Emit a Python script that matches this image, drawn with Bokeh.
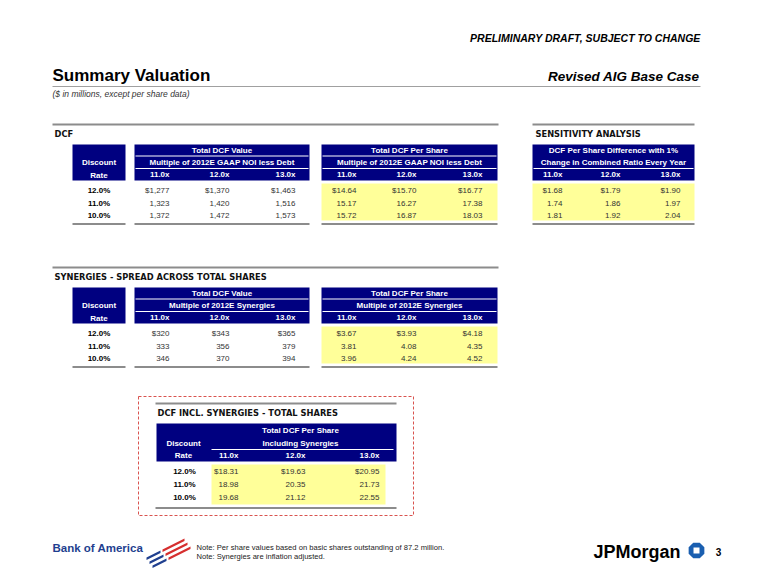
import numpy as np
from bokeh.plotting import figure
from bokeh.models import Range1d
from bokeh.core.properties import value
from bokeh.embed import file_html
from bokeh.resources import INLINE

# ---------------- data ----------------
rates = ["12.0%", "11.0%", "10.0%"]
multiples = ["11.0x", "12.0x", "13.0x"]
dcf_value = [[1277, 1370, 1463], [1323, 1420, 1516], [1372, 1472, 1573]]
dcf_per_share = [[14.64, 15.70, 16.77], [15.17, 16.27, 17.38], [15.72, 16.87, 18.03]]
sens_diff = [[1.68, 1.79, 1.90], [1.74, 1.86, 1.97], [1.81, 1.92, 2.04]]
syn_value = [[320, 343, 365], [333, 356, 379], [346, 370, 394]]
syn_per_share = [[3.67, 3.93, 4.18], [3.81, 4.08, 4.35], [3.96, 4.24, 4.52]]
incl_per_share = [[18.31, 19.63, 20.95], [18.98, 20.35, 21.73], [19.68, 21.12, 22.55]]

# ---------------- styles ----------------
NAVY = "#000080"
YELLOW = "#FFFF99"
GRAY = "#8c8c8c"
VAL = "#333333"
FONT = value("Liberation Sans")
TFONT = value("DejaVu Sans")

p = figure(width=741, height=571, x_range=Range1d(0, 741), y_range=Range1d(571, 0),
           output_backend="svg", toolbar_location=None, min_border=0,
           x_axis_location=None, y_axis_location=None)
p.grid.visible = False
p.outline_line_color = None
p.background_fill_color = "white"


def txt(xs, ys, ss, size, style="normal", color="#000000", align="left", font=FONT):
    p.text(x=list(xs), y=list(ys), text=list(ss), text_font=font,
           text_font_size=f"{size}px", text_font_style=style, text_color=color,
           text_align=align, text_baseline="middle")


def hline(x0, x1, y, color=GRAY, w=2):
    p.segment(x0=[x0], y0=[y], x1=[x1], y1=[y], line_color=color, line_width=w)


def box(x0, x1, y0, y1, color):
    p.quad(left=[x0], right=[x1], top=[y0], bottom=[y1], fill_color=color, line_color=None)


def fmt(v, first, dec):
    s = f"{v:,.{dec}f}"
    return "$" + s if first else s


def values_block(x_right, ys, data, dec):
    for r, row in enumerate(data):
        txt(x_right, [ys[r]] * 3, [fmt(v, r == 0, dec) for v in row], 8, color=VAL, align="right")


# ---------------- header ----------------
txt([700], [37], ["PRELIMINARY DRAFT, SUBJECT TO CHANGE"], 10.5, "bold italic", "#000", "right")
txt([52], [75], ["Summary Valuation"], 17, "bold", "#000")
txt([699], [76], ["Revised AIG Base Case"], 13.5, "bold italic", "#000", "right")
hline(52, 700, 86, "#a0a0a0", 1)
txt([52], [93.5], ["($ in millions, except per share data)"], 8.5, "italic", "#333")


# ---------------- standard section ----------------
def section(top, title, l_title1, l_title2, r_title1, r_title2, left_data, right_data, left_dec, right_dec):
    hline(52, 498, top)
    txt([54], [top + 9.5], [title], 8.3, "bold", "#111", font=TFONT)
    b0, b1 = top + 20, top + 56
    # discount box
    box(72, 125, b0, b1, NAVY)
    txt([98.5, 98.5], [top + 38, top + 50.5], ["Discount", "Rate"], 8, "bold", "white", "center")
    ys = [top + 66, top + 78.5, top + 91]
    txt([98.5] * 3, ys, rates, 8, "bold", "#000", "center")
    hline(72, 125, top + 99.5)
    for (x0, x1, t1, t2, data, dec, yel) in [(134, 309, l_title1, l_title2, left_data, left_dec, False),
                                            (321, 497, r_title1, r_title2, right_data, right_dec, True)]:
        box(x0, x1, b0, b1, NAVY)
        hline(x0 + 1, x1 - 1, top + 31.5, "white", 1)
        hline(x0 + 1, x1 - 1, top + 44, "white", 1)
        cx = (x0 + x1) / 2
        txt([cx, cx], [top + 25.5, top + 37.5], [t1, t2], 8, "bold", "white", "center")
        xr = [x0 + 35, x0 + 95, x0 + 161]
        txt(xr, [top + 50] * 3, multiples, 8, "bold", "white", "right")
        if yel:
            box(x0, x1, top + 59, top + 96, YELLOW)
        values_block(xr, ys, data, dec)
        hline(x0, x1, top + 99.5)


section(124, "DCF", "Total DCF Value", "Multiple of 2012E GAAP NOI less Debt",
        "Total DCF Per Share", "Multiple of 2012E GAAP NOI less Debt",
        dcf_value, dcf_per_share, 0, 2)
section(267, "SYNERGIES - SPREAD ACROSS TOTAL SHARES", "Total DCF Value", "Multiple of 2012E Synergies",
        "Total DCF Per Share", "Multiple of 2012E Synergies",
        syn_value, syn_per_share, 0, 2)

# ---------------- sensitivity ----------------
top = 124
sx0, sx1 = 532, 694
hline(sx0, sx1, top)
txt([535], [top + 9.5], ["SENSITIVITY ANALYSIS"], 8.3, "bold", "#111", font=TFONT)
box(sx0, sx1, top + 20, top + 56, NAVY)
hline(sx0 + 1, sx1 - 1, top + 44, "white", 1)
scx = (sx0 + sx1) / 2
txt([scx, scx], [top + 25.5, top + 37.5],
    ["DCF Per Share Difference with 1%", "Change in Combined Ratio Every Year"], 8, "bold", "white", "center")
sxr = [sx0 + 30, sx0 + 88, sx0 + 148]
txt(sxr, [top + 50] * 3, multiples, 8, "bold", "white", "right")
box(sx0, sx1, top + 59, top + 96, YELLOW)
values_block(sxr, [top + 66, top + 78.5, top + 91], sens_diff, 2)
hline(sx0, sx1, top + 99.5)

# ---------------- DCF incl. synergies ----------------
p.quad(left=[138], right=[413], top=[396], bottom=[515], fill_color=None,
       line_color="#d9534f", line_width=1, line_dash="3 2")
hline(155, 396, 403)
txt([157], [412.5], ["DCF INCL. SYNERGIES - TOTAL SHARES"], 8.3, "bold", "#111", font=TFONT)
box(156, 396, 423, 461, NAVY)
hline(211, 393, 449, "white", 1)
txt([300, 300], [430, 442.5], ["Total DCF Per Share", "Including Synergies"], 8, "bold", "white", "center")
txt([183, 183], [442.5, 454.5], ["Discount", "Rate"], 8, "bold", "white", "center")
ixr = [238, 305, 379]
txt(ixr, [454.5] * 3, multiples, 8, "bold", "white", "right")
box(211, 385, 464, 504, YELLOW)
iys = [471, 484, 496.5]
txt([184] * 3, iys, rates, 8, "bold", "#000", "center")
values_block(ixr, iys, incl_per_share, 2)
hline(155, 396, 507.5)

# ---------------- footer ----------------
txt([52], [547], ["Bank of America"], 11.5, "bold", "#1f3f8f")
# flag mark
fx, fy = [], []
for r in range(3):
    bx, by = 146 + 3 * r, 557 + 4 * r
    fx.append([bx, bx + 14, bx + 14, bx]); fy.append([by, by - 7, by - 4.5, by + 2.5])
    rx, ry = 162 + 3 * r, 549 + 4 * r
    fx.append([rx, rx + 22, rx + 22, rx]); fy.append([ry, ry - 11, ry - 8.5, ry + 2.5])
p.patches(xs=fx, ys=fy, fill_color=["#1f3f8f", "#d62e2e"] * 3, line_color=None)

txt([196, 196], [547, 556],
    ["Note: Per share values based on basic shares outstanding of 87.2 million.",
     "Note: Synergies are inflation adjusted."], 7.6, "normal", "#222")

txt([593], [551], ["JPMorgan"], 18, "bold", "#000")
ang = np.deg2rad(22.5 + 45 * np.arange(8))
p.patch(x=list(696 + 8.5 * np.cos(ang)), y=list(550 + 8.5 * np.sin(ang)), fill_color="#1a5fb0", line_color=None)
box(693, 699, 547, 553, "white")
txt([718], [551], ["3"], 10, "bold", "#000", "center")

open("out.html", "w").write(file_html(p, INLINE))
